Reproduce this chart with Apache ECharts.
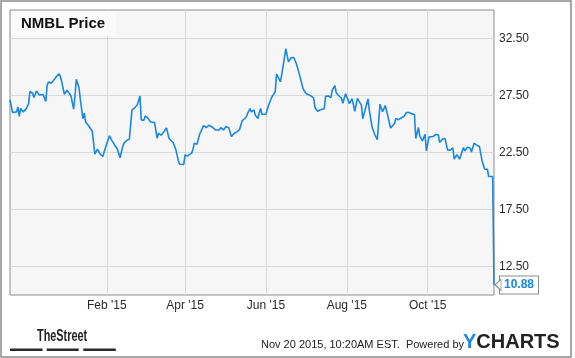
<!DOCTYPE html>
<html><head><meta charset="utf-8">
<script src="https://cdn.jsdelivr.net/npm/echarts@6/dist/echarts.min.js"></script>
<style>html,body{margin:0;padding:0;background:#fff}#c{width:575px;height:358px}</style>
</head><body><div id="c"></div>
<script>
// ---- data ----
const startDate = '2014-11-20';
const endDate = '2015-11-20';
// days since startDate
const dayOffsets = [0,2,3,5,6,7,8,10,12,14,15,17,18,20,22,25,26,27,28,29,31,32,34,35,37,38,39,41,43,44,46,48,49,50,52,53,55,56,57,59,62,64,66,68,70,72,75,77,79,81,83,85,86,88,90,92,94,96,98,99,101,102,104,106,109,111,112,114,116,118,120,123,125,127,128,131,132,134,137,138,139,141,143,146,148,150,153,155,158,159,161,163,165,167,168,169,171,173,175,176,178,179,181,182,184,185,187,188,189,190,193,194,195,197,198,200,201,203,204,206,208,210,212,214,216,217,218,221,223,227,229,230,231,232,234,237,238,240,242,243,245,246,248,250,251,253,255,256,258,260,262,265,266,267,270,271,273,275,277,279,281,283,285,287,290,291,293,294,297,299,301,303,305,306,308,309,311,313,314,316,319,321,323,324,326,328,330,332,334,335,337,339,340,342,343,345,347,348,350,352,354,356,358,360,361,362,364,365];
const prices = [27.11,26.01,26.06,26.06,26.50,25.66,26.36,26.06,26.30,26.74,27.85,27.70,27.32,27.90,27.55,27.59,27.57,26.97,28.40,28.69,28.58,28.62,28.99,29.17,29.39,29.17,28.69,27.61,27.96,27.82,27.46,26.30,27.46,28.93,28.20,27.18,25.48,25.95,25.18,24.89,24.39,22.35,22.79,22.35,22.15,22.94,23.96,23.52,23.14,22.79,22.03,23.03,23.32,23.55,23.67,26.24,26.41,26.68,27.46,25.36,25.33,25.71,25.51,25.18,25.13,23.75,24.19,24.02,24.31,24.66,23.73,23.38,22.79,21.76,21.47,21.45,22.29,22.20,22.44,22.79,23.32,23.23,24.10,24.85,24.69,24.89,24.69,24.48,24.48,24.69,24.48,24.78,24.66,23.90,23.90,24.17,24.31,24.48,25.27,25.27,25.57,25.86,26.36,26.06,26.24,25.77,25.48,26.01,26.36,25.86,25.86,25.95,26.65,27.24,27.46,27.82,29.37,28.93,28.69,30.10,31.62,30.45,30.80,30.83,30.29,30.40,29.46,28.10,27.70,27.46,27.28,26.45,26.60,26.12,26.25,26.34,27.44,27.46,27.32,27.96,28.36,27.75,27.48,27.26,26.82,27.66,27.09,26.78,27.22,26.12,27.24,26.65,25.46,25.42,27.20,26.17,24.76,24.10,23.62,26.74,26.08,26.62,25.68,24.65,25.04,25.48,25.38,25.54,25.66,26.01,26.01,25.89,25.83,23.73,24.69,23.96,23.52,24.10,22.64,23.87,23.90,24.08,24.06,23.38,23.67,23.73,22.73,22.70,22.90,21.91,22.32,21.91,21.80,22.94,22.64,22.96,22.90,22.55,23.32,23.14,23.03,21.76,21.03,21.03,20.39,20.51,20.39,10.88];
const xTickDates = ['2015-02-01','2015-04-01','2015-06-01','2015-08-01','2015-10-01'];
const xTickLabels = ["Feb '15","Apr '15","Jun '15","Aug '15","Oct '15"];
const yTicks = [12.5,17.5,22.5,27.5,32.5];
const yMin = 10, yMax = 35;
const titleText = 'NMBL Price';
const footerText = 'Nov 20 2015, 10:20AM EST.  Powered by';

// ---- chart ----
const DAY = 86400000;
const t0 = Date.parse(startDate);
const seriesData = dayOffsets.map((d, i) => [t0 + d * DAY, prices[i]]);
const xTickTimes = xTickDates.map(s => Date.parse(s));
const last = seriesData[seriesData.length - 1];
const BLUE = '#1a87e0';

const chart = echarts.init(document.getElementById('c'), null, {renderer: 'canvas'});
chart.setOption({
  animation: false,
  backgroundColor: '#ffffff',
  textStyle: {fontFamily: 'Liberation Sans, Arial, sans-serif'},
  grid: {
    left: 10, top: 10, width: 484, height: 285,
    show: true, backgroundColor: '#f6f6f6', borderColor: '#8c8c8c', borderWidth: 1,
    containLabel: false
  },
  xAxis: {
    type: 'value',
    min: Date.parse(startDate), max: Date.parse(endDate),
    axisLine: {show: false},
    axisTick: {show: false, customValues: xTickTimes},
    axisLabel: {
      customValues: xTickTimes,
      color: '#2a2a2a', fontSize: 12, margin: 5,
      formatter: v => { const i = xTickTimes.indexOf(v); return i >= 0 ? xTickLabels[i] : ''; }
    },
    splitLine: {show: true, lineStyle: {color: '#d9d9d9', width: 1}}
  },
  yAxis: {
    type: 'value', position: 'right',
    min: yMin, max: yMax,
    axisLine: {show: false},
    axisTick: {show: false, customValues: yTicks},
    axisLabel: {
      customValues: yTicks,
      color: '#2a2a2a', fontSize: 12, margin: 5,
      formatter: v => v.toFixed(2)
    },
    splitLine: {show: true, lineStyle: {color: '#d9d9d9', width: 1}}
  },
  series: [{
    type: 'line',
    data: seriesData,
    showSymbol: false,
    symbol: 'none',
    lineStyle: {color: BLUE, width: 1.6},
    endLabel: {
      show: true,
      formatter: p => p.value[1].toFixed(2),
      color: BLUE, fontWeight: 'bold', fontSize: 12,
      backgroundColor: '#ffffff', borderColor: '#8c8c8c', borderWidth: 1,
      padding: [3, 4, 2, 4], distance: 6
    },
    markPoint: {
      silent: true,
      symbol: 'triangle', symbolSize: [11, 6], symbolRotate: 90,
      symbolOffset: [4, 0],
      itemStyle: {color: '#ffffff', borderColor: '#8c8c8c', borderWidth: 1},
      label: {show: false},
      data: [{coord: last}]
    }
  }],
  graphic: [
    {type: 'rect', z: 100, shape: {x: 1, y: 1, width: 570, height: 356},
     style: {fill: 'none', stroke: '#8c8c8c', lineWidth: 1.5}},
    {type: 'rect', z: 100, shape: {x: 11, y: 11, width: 105, height: 25},
     style: {fill: '#fafafa'}},
    {type: 'text', z: 101, left: 21, top: 16,
     style: {text: titleText, font: 'bold 15px "Liberation Sans", Arial, sans-serif', fill: '#111'}},
    {type: 'text', z: 101, x: 37, y: 329, scaleX: 0.68,
     style: {text: 'TheStreet', font: 'bold 16px "Liberation Sans", Arial, sans-serif', fill: '#222'}},
    {type: 'rect', z: 101, shape: {x: 10, y: 348.5, width: 32.5, height: 2.5}, style: {fill: '#2a2a2a'}},
    {type: 'rect', z: 101, shape: {x: 46.7, y: 348.5, width: 32, height: 2.5}, style: {fill: '#2a2a2a'}},
    {type: 'rect', z: 101, shape: {x: 83.3, y: 348.5, width: 32.5, height: 2.5}, style: {fill: '#2a2a2a'}},
    {type: 'text', z: 101, x: 261, y: 339,
     style: {text: footerText, font: '11px "Liberation Sans", Arial, sans-serif', fill: '#222'}},
    {type: 'text', z: 101, x: 463, y: 332,
     style: {
       text: '{y|Y}{c|CHARTS}',
       rich: {
         y: {font: 'bold 20px "Liberation Sans", Arial, sans-serif', fill: BLUE},
         c: {font: 'bold 20px "Liberation Sans", Arial, sans-serif', fill: '#222'}
       }
     }}
  ]
});
</script>
</body></html>
